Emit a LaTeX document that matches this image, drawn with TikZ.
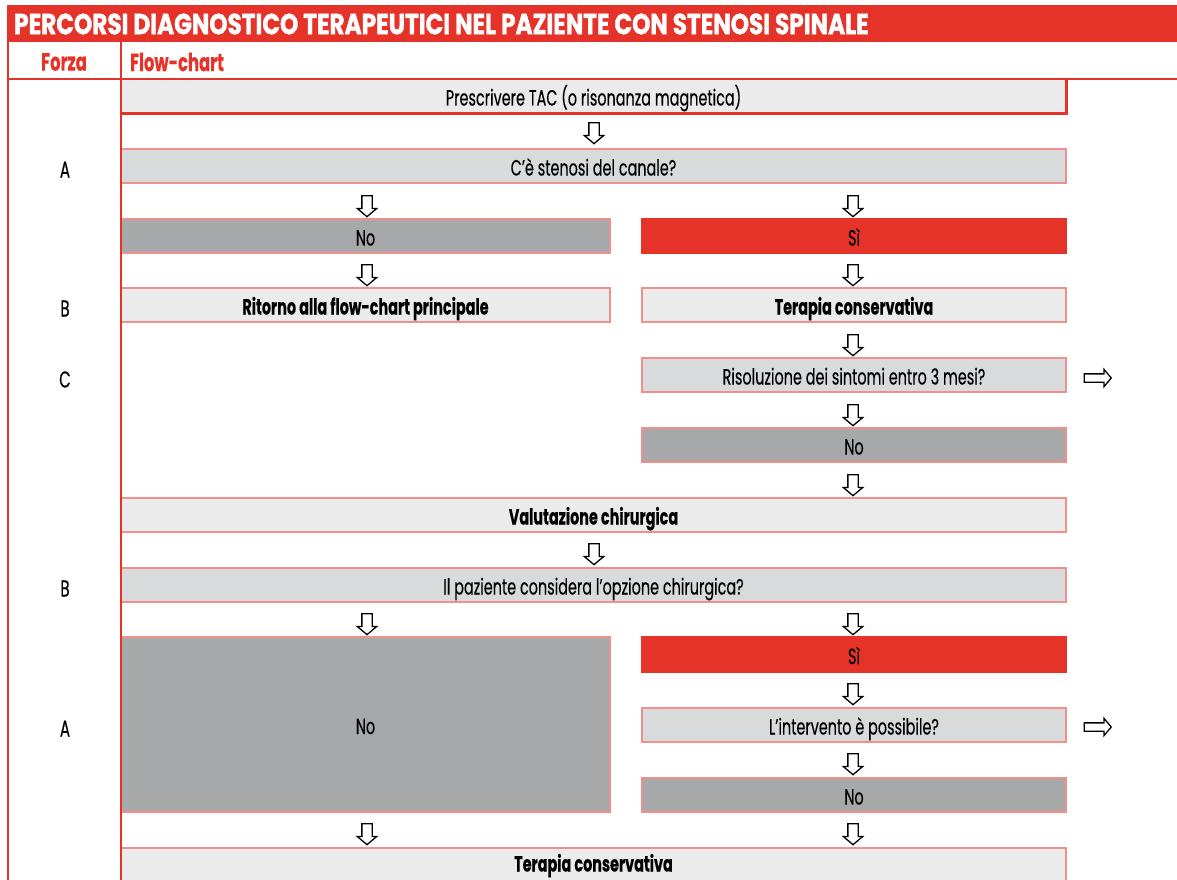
\documentclass[tikz,border=0pt]{standalone}
\usepackage{fontspec}
\setmainfont{Poppins}[FakeStretch=0.655,FakeBold=0.3]
\newfontfamily\titlefont{Poppins}[FakeStretch=0.8,FakeBold=1.2]
\usetikzlibrary{shapes.arrows,calc}
\definecolor{rossa}{HTML}{E63329}
\definecolor{rosa}{HTML}{F0908B}
\definecolor{chiaro}{HTML}{EBEBEB}
\definecolor{medio}{HTML}{D9DADC}
\definecolor{scuro}{HTML}{A7A8AA}
\tikzset{
  x=1pt, y=-1pt,
  cella/.style={draw=rosa, line width=1.4pt, inner sep=0pt, font=\fontsize{22}{24}\selectfont, text=black,
    text height=19pt, text depth=0pt},
  cchiara/.style={cella, fill=chiaro},
  cmedia/.style={cella, fill=medio},
  cscura/.style={cella, fill=scuro},
  crossa/.style={cella, fill=rossa, draw=rossa},
  grassetto/.style={font=\fontsize{22}{24}\selectfont\bfseries},
  darr/.style={single arrow, draw=black, fill=white, line width=1.3pt, inner sep=4.5pt,
    single arrow head extend=4.5pt, minimum height=21pt, shape border rotate=270, single arrow tip angle=100},
  rarr/.style={single arrow, draw=black, fill=white, line width=1.3pt, inner sep=3.5pt,
    single arrow head extend=4.5pt, minimum height=27pt, single arrow tip angle=100},
  forza/.style={font=\fontsize{23}{24}\selectfont, text=black, text height=19pt, text depth=0pt},
  intest/.style={font=\fontsize{25}{26}\selectfont\bfseries, text=rossa, inner sep=0pt},
  linea/.style={draw=rossa, line width=2.6pt},
}
\newcommand\bx[7]{\node[#2, minimum width={#5-#3}, minimum height={#6-#4}] (#1) at ({(#3+#5)/2},{(#4+#6)/2}) {#7};}
\begin{document}
\begin{tikzpicture}
\useasboundingbox (0,0) rectangle (1177,880);
\clip (0,0) rectangle (1177,880);
% title
\fill[rossa] (7,5) rectangle (1177,42);
\node[anchor=west, inner sep=0pt, text=white, font=\titlefont\fontsize{29}{30}\selectfont\bfseries] (titolo) at (14,24) {PERCORSI DIAGNOSTICO TERAPEUTICI NEL PAZIENTE CON STENOSI SPINALE};
% header
\node[intest] (hforza) at (64,62) {Forza};
\node[intest, anchor=west] (hflow) at (130,62) {Flow-chart};
% boxes
\bx{b1}{cchiara}{121}{79}{1066}{113}{Prescrivere TAC (o risonanza magnetica)}
\draw[draw=rossa, line width=3pt] (b1.north east) -- (b1.south east) -- (b1.south west);
\bx{b2}{cmedia}{121}{149}{1066}{183}{C’è stenosi del canale?}
\bx{b3l}{cscura}{121}{219}{610}{253}{No}
\bx{b3r}{crossa}{642}{219}{1066}{253}{Sì}
\bx{b4l}{cchiara,grassetto}{121}{288}{610}{322}{Ritorno alla flow-chart principale}
\bx{b4r}{cchiara,grassetto}{642}{288}{1066}{322}{Terapia conservativa}
\bx{b5}{cmedia}{642}{358}{1066}{392}{Risoluzione dei sintomi entro 3 mesi?}
\bx{b6}{cscura}{642}{428}{1066}{462}{No}
\bx{b7}{cchiara,grassetto}{121}{498}{1066}{532}{Valutazione chirurgica}
\bx{b8}{cmedia}{121}{568}{1066}{602}{Il paziente considera l’opzione chirurgica?}
\bx{b9l}{cscura}{121}{637}{610}{812}{No}
\bx{b9r}{crossa}{642}{637}{1066}{672}{Sì}
\bx{b10}{cmedia}{642}{708}{1066}{742}{L’intervento è possibile?}
\bx{b11}{cscura}{642}{778}{1066}{812}{No}
\bx{b12}{cchiara,grassetto}{121}{848}{1066}{912}{}
\node[cella, draw=none, grassetto] (t12) at (593.5,862) {Terapia conservativa};
% grid lines
\draw[linea] (8,42) -- (8,880);
\draw[linea] (121,42) -- (121,880);
\draw[linea] (8,79) -- (1177,79);
% forza labels
\node[forza] (fA1) at (65,168) {A};
\node[forza] (fB1) at (65,307) {B};
\node[forza] (fC) at (65,378) {C};
\node[forza] (fB2) at (65,587) {B};
\node[forza] (fA2) at (65,727) {A};
% arrows
\node[darr] (a1) at (594,131) {};
\node[darr] (a2l) at (367,204) {};
\node[darr] (a2r) at (853,204) {};
\node[darr] (a3l) at (367,273) {};
\node[darr] (a3r) at (853,273) {};
\node[darr] (a4r) at (853,343) {};
\node[darr] (a5r) at (853,413) {};
\node[darr] (a6r) at (853,483) {};
\node[darr] (a7) at (594,552) {};
\node[darr] (a8l) at (367,622) {};
\node[darr] (a8r) at (853,622) {};
\node[darr] (a9r) at (853,692) {};
\node[darr] (a10r) at (853,762) {};
\node[darr] (a11l) at (367,832) {};
\node[darr] (a11r) at (853,832) {};
\node[rarr] (r1) at (1096,378) {};
\node[rarr] (r2) at (1096,727) {};
\end{tikzpicture}
\end{document}
